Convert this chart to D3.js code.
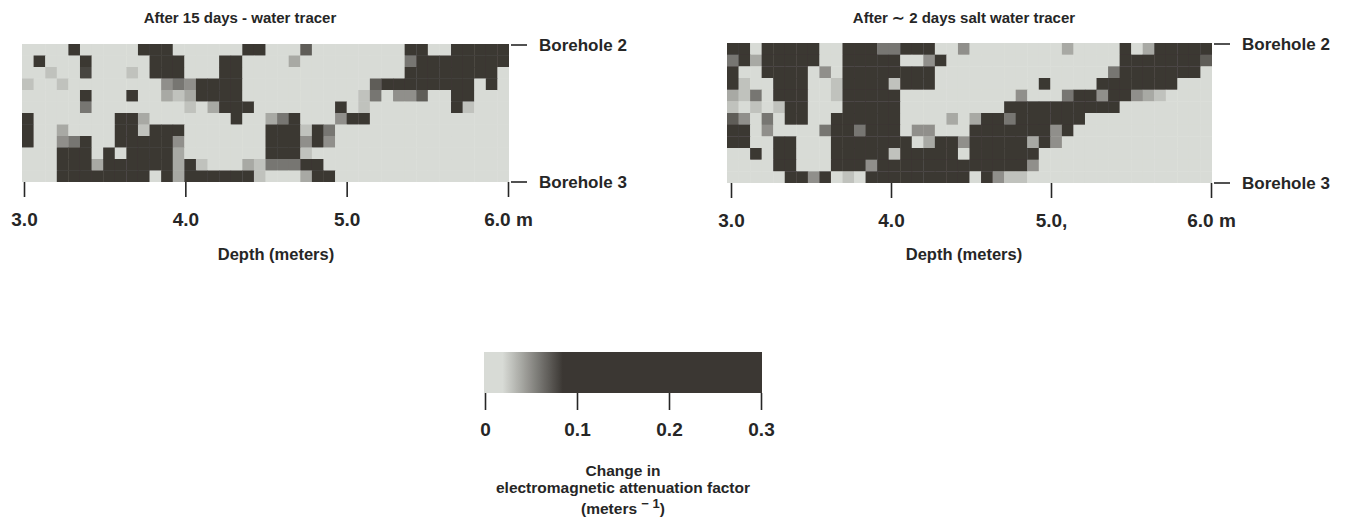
<!DOCTYPE html>
<html>
<head>
<meta charset="utf-8">
<script src="https://cdn.jsdelivr.net/npm/d3@7"></script>
<style>
  body { margin: 0; background: #ffffff; }
  text { font-family: "Liberation Sans", Arial, Helvetica, sans-serif; font-weight: bold; fill: #262626; }
</style>
</head>
<body>
<svg id="chart" width="1354" height="529"></svg>
<script>
// ---------------- DATA ----------------
const depthTicks = [3.0, 4.0, 5.0, 6.0];
const leftTickLabels = ["3.0", "4.0", "5.0", "6.0 m"];
const rightTickLabels = ["3.0", "4.0", "5.0,", "6.0 m"];
const leftTitle = "After 15 days - water tracer";
const rightTitle = "After \u223C 2 days salt water tracer";
const axisTitle = "Depth (meters)";
const boreholeLabels = ["Borehole 2", "Borehole 3"];
// each digit = change in attenuation factor in hundredths (m^-1); rows run Borehole 2 -> Borehole 3
const waterTracerRows = [
  "00009000009990" + "00000990007000" + "00000990099999",
  "09000900000999" + "00099000040000" + "00000699999999",
  "00300800030999" + "00099000000000" + "00000999999990",
  "30030000000056" + "59999000000000" + "00799999999090",
  "00000900090043" + "49999000000000" + "03605570099000",
  "00000600000002" + "32499900000009" + "03000000093000",
  "90000000994200" + "00009004690005" + "99000000000000",
  "90040000993999" + "00000009993960" + "00000000000000",
  "90056900999995" + "00000009995950" + "00000000000000",
  "00099909099994" + "00000009993200" + "00000000000000",
  "00099949999994" + "93000436669900" + "00000000000000",
  "00099999999094" + "99999930004990" + "00000000000000"
];
const saltTracerRows = [
  "99099999009996" + "69990050000000" + "04000090499999",
  "69499999009999" + "90059000000000" + "00000099999997",
  "90299990509999" + "99990000000000" + "00000699999990",
  "93029990039999" + "39990000000009" + "00009999999000",
  "43629990039999" + "90000000000500" + "06995995430000",
  "32323990029999" + "90000000009999" + "99999900000000",
  "75060990099999" + "90000404996999" + "99900000000000",
  "99050000699699" + "90550009999999" + "59000000000000",
  "99009900099999" + "99049959999949" + "50000000000000",
  "00909900099999" + "39999929999990" + "00000000000000",
  "00009900099959" + "99999999999950" + "00000000000000",
  "00000995903099" + "99999990953300" + "00000000000000"
];
const colorbarTicks = [0, 0.1, 0.2, 0.3];
const colorbarTickLabels = ["0", "0.1", "0.2", "0.3"];
const colorbarTitleLines = ["Change in", "electromagnetic attenuation factor"];
const unitsText = "(meters";
const unitsSup = "\u2212 1";
const digitUnit = 0.01;

// ---------------- DRAW ----------------
const svg = d3.select("#chart");
const defs = svg.append("defs");
defs.append("filter").attr("id", "soft")
  .attr("x", "-2%").attr("y", "-5%").attr("width", "104%").attr("height", "110%")
  .append("feGaussianBlur").attr("stdDeviation", 0.7);

const color = d3.scaleLinear()
  .domain([0.02, 0.085])
  .range(["#d8dbd6", "#3b3733"])
  .clamp(true);

function drawPanel(cfg, id) {
  const g = svg.append("g");
  const grid = cfg.rows.map(r => r.split("").map(Number));
  const nRows = grid.length, nCols = grid[0].length;
  const xb = d3.scaleBand().domain(d3.range(nCols)).range([cfg.gx0, cfg.gx1]);
  const yb = d3.scaleBand().domain(d3.range(nRows)).range([cfg.gy0, cfg.gy1]);
  const cells = [];
  grid.forEach((row, r) => row.forEach((d, c) => cells.push({ r, c, v: d * digitUnit })));

  defs.append("clipPath").attr("id", "clip" + id).append("rect")
    .attr("x", cfg.gx0).attr("y", cfg.gy0)
    .attr("width", cfg.gx1 - cfg.gx0).attr("height", cfg.gy1 - cfg.gy0);
  g.append("g").attr("clip-path", `url(#clip${id})`)
    .append("g").attr("filter", "url(#soft)")
    .selectAll("rect").data(cells).join("rect")
    .attr("x", d => xb(d.c))
    .attr("y", d => yb(d.r))
    .attr("width", xb.bandwidth() + 0.4)
    .attr("height", yb.bandwidth() + 0.4)
    .attr("fill", d => color(d.v));

  // depth axis
  const x = d3.scaleLinear().domain([3, 6]).range([cfg.tx0, cfg.tx1]);
  const axis = d3.axisBottom(x)
    .tickValues(depthTicks)
    .tickSize(15)
    .tickPadding(16)
    .tickFormat((d, i) => cfg.tickLabels[i]);
  const ag = g.append("g").attr("transform", `translate(0,${cfg.gy1})`).call(axis);
  ag.select(".domain").remove();
  ag.selectAll(".tick line").attr("stroke", "#262626").attr("stroke-width", 1.6);
  ag.selectAll(".tick text").attr("font-size", 19).attr("fill", "#262626")
    .attr("font-family", null);

  // titles
  g.append("text").attr("x", cfg.titleX).attr("y", 23)
    .attr("text-anchor", "middle").attr("font-size", 15).text(cfg.title);
  g.append("text").attr("x", cfg.axisTitleX).attr("y", 260)
    .attr("text-anchor", "middle").attr("font-size", 16.5).text(axisTitle);

  // borehole markers
  [cfg.gy0 + 1, cfg.gy1].forEach((yy, i) => {
    g.append("line").attr("x1", cfg.gx1 + 2).attr("x2", cfg.gx1 + 18)
      .attr("y1", yy).attr("y2", yy).attr("stroke", "#262626").attr("stroke-width", 1.6);
    g.append("text").attr("x", cfg.gx1 + 30).attr("y", yy + 6)
      .attr("font-size", 17).text(boreholeLabels[i]);
  });
}

drawPanel({
  rows: waterTracerRows, gx0: 22, gx1: 509, gy0: 44, gy1: 182,
  tx0: 24, tx1: 508, tickLabels: leftTickLabels,
  title: leftTitle, titleX: 240, axisTitleX: 276
}, "L");
drawPanel({
  rows: saltTracerRows, gx0: 727, gx1: 1212, gy0: 43, gy1: 183,
  tx0: 731, tx1: 1211, tickLabels: rightTickLabels,
  title: rightTitle, titleX: 964, axisTitleX: 964
}, "R");

// ---------------- COLORBAR ----------------
const cb = svg.append("g");
const cbx = d3.scaleLinear().domain([0, 0.3]).range([485, 761]);
const grad = defs.append("linearGradient").attr("id", "cbgrad")
  .attr("x1", "0%").attr("x2", "100%").attr("y1", "0%").attr("y2", "0%");
const stopVals = [0].concat(d3.range(0.02, 0.0851, 0.005), [0.3]);
grad.selectAll("stop").data(stopVals).join("stop")
  .attr("offset", d => ((cbx(d) - cbx(0)) / (cbx(0.3) - cbx(0)) * 100) + "%")
  .attr("stop-color", d => color(d));
cb.append("rect").attr("x", cbx(0) - 1).attr("y", 352)
  .attr("width", cbx(0.3) - cbx(0) + 2).attr("height", 41)
  .attr("fill", "url(#cbgrad)");
const cbAxis = d3.axisBottom(cbx).tickValues(colorbarTicks).tickSize(17).tickPadding(13)
  .tickFormat((d, i) => colorbarTickLabels[i]);
const cag = cb.append("g").attr("transform", "translate(0,393)").call(cbAxis);
cag.select(".domain").remove();
cag.selectAll(".tick line").attr("stroke", "#262626").attr("stroke-width", 1.6);
cag.selectAll(".tick text").attr("font-size", 19).attr("fill", "#262626").attr("font-family", null);

const cbCenter = (cbx(0) + cbx(0.3)) / 2;
colorbarTitleLines.forEach((t, i) => {
  cb.append("text").attr("x", cbCenter).attr("y", 476 + i * 16.5)
    .attr("text-anchor", "middle").attr("font-size", 15.5).text(t);
});
const units = cb.append("text").attr("x", cbCenter).attr("y", 514)
  .attr("text-anchor", "middle").attr("font-size", 15.5);
units.append("tspan").text(unitsText + " ");
units.append("tspan").attr("dy", -6).attr("font-size", 13).text(unitsSup);
units.append("tspan").attr("dy", 6).text(")");
</script>
</body>
</html>
